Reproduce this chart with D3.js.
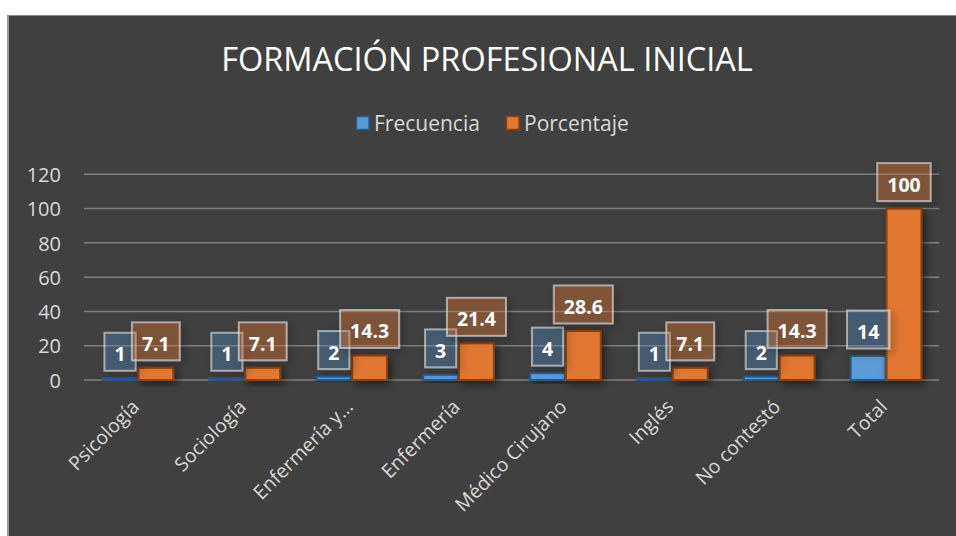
<!DOCTYPE html>
<html>
<head>
<meta charset="utf-8">
<script src="https://cdn.jsdelivr.net/npm/d3@7"></script>
<style>
  html, body { margin: 0; padding: 0; background: #ffffff; }
  svg { display: block; }
  text { font-family: "Open Sans", "Noto Sans", sans-serif; }
</style>
</head>
<body>
<svg id="chart" width="956" height="536"></svg>
<script>
// datos de la grafica
const categories = ["Psicología", "Sociología", "Enfermería y…", "Enfermería", "Médico Cirujano", "Inglés", "No contestó", "Total"];
const series = ["Frecuencia", "Porcentaje"];
const frecuencia = [1, 1, 2, 3, 4, 1, 2, 14];
const porcentaje = [7.1, 7.1, 14.3, 21.4, 28.6, 7.1, 14.3, 100];
const yTicks = [0, 20, 40, 60, 80, 100, 120];

const colors = {
  Frecuencia: { fill: "#5b9bd5", stroke: "#2a5a8a", label: "rgba(91,155,213,0.28)" },
  Porcentaje: { fill: "#e07832", stroke: "#8e420f", label: "rgba(237,125,49,0.32)" }
};

const rows = categories.map((c, i) => ({ cat: c, Frecuencia: frecuencia[i], Porcentaje: porcentaje[i] }));

const W = 956, H = 536;
const plot = { left: 84, right: 939, top: 174.3, bottom: 380 };

const svg = d3.select("#chart");

// sombras
const defs = svg.append("defs");
defs.append("filter").attr("id", "shadow")
  .attr("x", "-50%").attr("y", "-50%").attr("width", "200%").attr("height", "200%")
  .append("feDropShadow")
  .attr("dx", 3).attr("dy", 3).attr("stdDeviation", 4)
  .attr("flood-color", "#000").attr("flood-opacity", 0.55);

// fondo
svg.append("rect")
  .attr("x", 7).attr("y", 15).attr("width", W - 7).attr("height", H - 15)
  .attr("fill", "#404040");
svg.append("line").attr("x1", 7).attr("x2", W).attr("y1", 15.5).attr("y2", 15.5)
  .attr("stroke", "#8a8a8a").attr("stroke-width", 1);
svg.append("line").attr("x1", 8).attr("x2", 8).attr("y1", 15).attr("y2", H)
  .attr("stroke", "#9a9a9a").attr("stroke-width", 2);

// titulo
svg.append("text")
  .attr("x", 487).attr("y", 71)
  .attr("text-anchor", "middle")
  .attr("fill", "#ffffff")
  .style("font-size", "32.5px")
  .text("FORMACIÓN PROFESIONAL INICIAL");

// leyenda
const legend = svg.append("g");
const legendX = [356, 506];
series.forEach((s, i) => {
  const g = legend.append("g").attr("transform", `translate(${legendX[i]},116)`);
  g.append("rect").attr("x", 0.5).attr("y", 0.5).attr("width", 12.5).attr("height", 13)
    .attr("fill", colors[s].fill).attr("stroke", colors[s].stroke).attr("stroke-width", 1.5);
  g.append("text").attr("x", 18).attr("y", 14.5)
    .attr("fill", "#d9d9d9").style("font-size", "21px")
    .text(s);
});

// escalas
const y = d3.scaleLinear().domain([0, 120]).range([plot.bottom, plot.top]);
const x0 = d3.scaleBand().domain(categories).range([plot.left, plot.right])
  .paddingInner(0.33).paddingOuter(0.165);
const x1 = d3.scaleBand().domain(series).range([0, x0.bandwidth()]);

// lineas de cuadricula
svg.append("g")
  .selectAll("line")
  .data(yTicks)
  .enter()
  .append("line")
  .attr("x1", plot.left).attr("x2", plot.right)
  .attr("y1", d => y(d)).attr("y2", d => y(d))
  .attr("stroke", "#808080").attr("stroke-width", 1.5);

// eje y
const yAxis = svg.append("g")
  .attr("transform", `translate(${plot.left - 23},0)`)
  .call(d3.axisLeft(y).tickValues(yTicks).tickSize(0).tickPadding(0));
yAxis.select(".domain").remove();
yAxis.selectAll("text")
  .attr("fill", "#d9d9d9")
  .attr("dy", "0.36em")
  .style("font-size", "20px")
  .style("font-family", "'Open Sans', sans-serif");

// barras
const groups = svg.append("g")
  .selectAll("g.group")
  .data(rows)
  .enter()
  .append("g")
  .classed("group", true)
  .attr("transform", d => `translate(${x0(d.cat)},0)`);

groups.selectAll("rect.bar")
  .data(d => series.map(s => ({ key: s, value: d[s] })))
  .enter()
  .append("rect")
  .classed("bar", true)
  .attr("x", d => x1(d.key) + 1)
  .attr("y", d => y(d.value))
  .attr("width", x1.bandwidth() - 1)
  .attr("height", d => y(0) - y(d.value))
  .attr("fill", d => colors[d.key].fill)
  .attr("stroke", d => colors[d.key].stroke)
  .attr("stroke-width", 2)
  .attr("filter", "url(#shadow)");

// etiquetas de datos
const labelFont = 19.5;
const fmt = d => String(d);
series.forEach(s => {
  const lab = svg.append("g")
    .selectAll("g.lbl")
    .data(rows)
    .enter()
    .append("g")
    .classed("lbl", true);
  const txt = lab.append("text")
    .attr("x", d => x0(d.cat) + x1(s) + x1.bandwidth() / 2 + 0.5)
    .attr("y", d => y(d[s]) - 7.5 - 9.5)
    .attr("text-anchor", "middle")
    .attr("fill", "#ffffff")
    .style("font-size", labelFont + "px")
    .style("font-weight", "bold")
    .text(d => fmt(d[s]));
  txt.each(function(d) {
    const w = this.getComputedTextLength();
    const cx = x0(d.cat) + x1(s) + x1.bandwidth() / 2 + 0.5;
    const bw = w + 20, bh = 38;
    d3.select(this.parentNode).insert("rect", "text")
      .attr("x", cx - bw / 2)
      .attr("y", y(d[s]) - 7.5 - bh)
      .attr("width", bw).attr("height", bh)
      .attr("fill", colors[s].label)
      .attr("stroke", "rgba(230,230,230,0.6)")
      .attr("stroke-width", 2)
      .attr("filter", "url(#shadow)");
  });
});

// etiquetas del eje x
svg.append("g")
  .selectAll("text")
  .data(categories)
  .enter()
  .append("text")
  .attr("transform", d => `translate(${x0(d) + x0.bandwidth() / 2 + 3},${408}) rotate(-45)`)
  .attr("text-anchor", "end")
  .attr("fill", "#d9d9d9")
  .style("font-size", "19.5px")
  .text(d => d);
</script>
</body>
</html>
